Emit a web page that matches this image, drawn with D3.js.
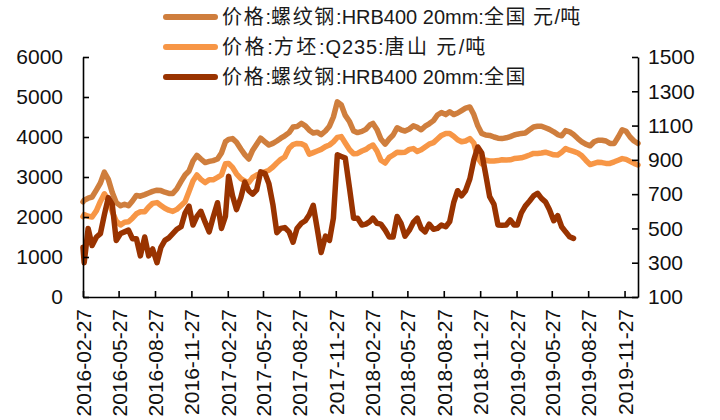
<!DOCTYPE html>
<html>
<head>
<meta charset="utf-8">
<script src="https://cdn.jsdelivr.net/npm/d3@7"></script>
<style>
  body { margin: 0; background: #fff; }
  text { font-family: "Liberation Sans", "Noto Sans CJK SC", sans-serif; }
</style>
</head>
<body>
<div class="chart"></div>
<script>
// dates of the samples (about every 10 days)
const dates = [
  '2016-02-27',
  '2016-03-01','2016-03-11','2016-03-21','2016-04-01','2016-04-11','2016-04-21','2016-05-01','2016-05-11','2016-05-21',
  '2016-06-01','2016-06-11','2016-06-21','2016-07-01','2016-07-11','2016-07-21','2016-08-01','2016-08-11','2016-08-21',
  '2016-09-01','2016-09-11','2016-09-21','2016-10-01','2016-10-11','2016-10-21','2016-11-01','2016-11-11','2016-11-21',
  '2016-12-01','2016-12-11','2016-12-21',
  '2017-01-01','2017-01-11','2017-01-21','2017-02-01','2017-02-11','2017-02-21','2017-03-01','2017-03-11','2017-03-21',
  '2017-04-01','2017-04-11','2017-04-21','2017-05-01','2017-05-11','2017-05-21','2017-06-01','2017-06-11','2017-06-21',
  '2017-07-01','2017-07-11','2017-07-21','2017-08-01','2017-08-11','2017-08-21','2017-09-01','2017-09-11','2017-09-21',
  '2017-10-01','2017-10-11','2017-10-21','2017-11-01','2017-11-11','2017-11-21','2017-12-01','2017-12-11','2017-12-21',
  '2018-01-01','2018-01-11','2018-01-21','2018-02-01','2018-02-11','2018-02-21','2018-03-01','2018-03-11','2018-03-21',
  '2018-04-01','2018-04-11','2018-04-21','2018-05-01','2018-05-11','2018-05-21','2018-06-01','2018-06-11','2018-06-21',
  '2018-07-01','2018-07-11','2018-07-21','2018-08-01','2018-08-11','2018-08-21','2018-09-01','2018-09-11','2018-09-21',
  '2018-10-01','2018-10-11','2018-10-21','2018-11-01','2018-11-11','2018-11-21','2018-12-01','2018-12-11','2018-12-21',
  '2019-01-01','2019-01-11','2019-01-21','2019-02-01','2019-02-11','2019-02-21','2019-03-01','2019-03-11','2019-03-21',
  '2019-04-01','2019-04-11','2019-04-21','2019-05-01','2019-05-11','2019-05-21','2019-06-01','2019-06-11','2019-06-21',
  '2019-07-01','2019-07-11','2019-07-21','2019-08-01','2019-08-11','2019-08-21','2019-09-01','2019-09-11','2019-09-21',
  '2019-10-01','2019-10-11','2019-10-21','2019-11-01','2019-11-11','2019-11-21','2019-12-01','2019-12-11','2019-12-21',
  '2019-12-31'
];

// 价格:螺纹钢:HRB400 20mm:全国 元/吨 (left axis)
const rebar = [
  2380,
  2420, 2470, 2500, 2680, 2850, 3120, 2940, 2610, 2360,
  2280, 2320, 2280, 2400, 2540, 2520, 2560, 2600, 2640,
  2670, 2660, 2620, 2590, 2590, 2700, 2890, 3050, 3150,
  3400, 3540, 3450,
  3360, 3390, 3410, 3450, 3600, 3880, 3940, 3960, 3870,
  3700, 3560, 3450, 3670, 3820, 3970, 3880, 3800, 3840,
  3900, 3970, 4030, 4110, 4250, 4260, 4340, 4280, 4170,
  4100, 4120, 4060, 4150, 4270, 4500, 4880, 4800, 4540,
  4380, 4150, 4110, 4140, 4190, 4300, 4340, 4190, 3950,
  3820, 3950, 4050, 4230, 4180, 4150, 4200, 4280, 4240,
  4180, 4270, 4330, 4410, 4550, 4610, 4560, 4630, 4560,
  4600, 4660, 4720, 4750, 4560, 4280, 4090, 4050, 4040,
  4000, 3970, 3960, 3980, 4010, 4050, 4070, 4090, 4100,
  4180, 4250, 4270, 4270, 4230, 4190, 4130, 4060, 4030,
  4160, 4130, 4060, 3960, 3880, 3820, 3780, 3880, 3920,
  3920, 3900, 3840, 3840, 4000, 4180, 4140, 4000, 3900,
  3840
];

// 价格:方坯:Q235:唐山 元/吨 (left axis)
const billet = [
  2010,
  2060, 2020, 2000, 2160, 2390, 2580, 2420, 2130, 1900,
  1800, 1870, 1880, 1970, 2080, 2130, 2130, 2250, 2340,
  2360, 2290, 2220, 2170, 2140, 2190, 2290, 2380, 2640,
  2900, 3050, 2940,
  2860, 2930, 2930, 2990, 3050, 3330, 3340, 3240, 3080,
  2960, 2900, 2860, 2990, 3050, 3080, 3130, 3170, 3250,
  3350, 3440, 3500, 3720, 3810, 3840, 3830, 3780, 3570,
  3610, 3650, 3690, 3760, 3800, 3880, 3990, 4010, 3850,
  3680, 3580, 3590, 3650, 3690, 3760, 3800, 3650, 3420,
  3350, 3490, 3550, 3620, 3610, 3620, 3690, 3710, 3640,
  3680, 3750, 3820, 3860, 3950, 4040, 4090, 4090, 4020,
  3930, 3880, 3900, 3960, 3850, 3480, 3330, 3420, 3400,
  3400, 3410, 3430, 3425, 3430, 3460, 3470, 3480, 3510,
  3550, 3590, 3590, 3600, 3620, 3590, 3555, 3550, 3620,
  3710, 3670, 3640, 3600, 3530, 3420, 3310, 3340, 3370,
  3360, 3340, 3340, 3380, 3420, 3460, 3440, 3390, 3340,
  3300
];

// 价格:螺纹钢:HRB400 20mm:全国 (right axis), ends in July 2019
const margin3 = [
  390,
  300, 500, 400, 450, 470, 580, 680, 640, 430,
  470, 480, 490, 440, 440, 340, 450, 340, 380,
  300, 390, 430, 445, 470, 495, 510, 590, 630,
  520, 570, 600,
  535, 480, 565, 650, 500, 570, 805, 690, 610,
  680, 770, 720, 700, 725, 830, 820, 760, 640,
  475, 500, 505, 480, 420, 500, 530, 545, 580,
  635, 500, 360, 455, 430, 560, 930, 920, 910,
  730, 560, 560, 520, 525, 540, 560, 530, 525,
  490, 450, 450, 570, 530, 455, 490, 535, 560,
  500, 480, 525, 495, 500, 520, 510, 540, 650,
  720, 690, 720, 790, 900, 975, 940, 815, 685,
  640, 520, 518, 520, 550, 520, 520, 590, 630,
  660, 690, 705, 675, 655, 610, 545, 575, 510,
  480, 452, 442
];

const tickDates = [
  '2016-02-27','2016-05-27','2016-08-27','2016-11-27','2017-02-27','2017-05-27','2017-08-27','2017-11-27',
  '2018-02-27','2018-05-27','2018-08-27','2018-11-27','2019-02-27','2019-05-27','2019-08-27','2019-11-27'
];
const leftTicks = [0, 1000, 2000, 3000, 4000, 5000, 6000];
const rightTicks = [100, 300, 500, 700, 900, 1100, 1300, 1500];
const seriesNames = [
  '价格:螺纹钢:HRB400 20mm:全国 元/吨',
  '价格:方坯:Q235:唐山 元/吨',
  '价格:螺纹钢:HRB400 20mm:全国'
];
const colors = ['#cf7e3d', '#f79646', '#993300'];

const margin = { top: 57, right: 82, bottom: 123, left: 83 };
const width = 720 - margin.left - margin.right;
const height = 420 - margin.top - margin.bottom;

const parse = d3.timeParse('%Y-%m-%d');

const svg = d3.select('.chart')
  .append('svg')
  .attr('width', width + margin.left + margin.right)
  .attr('height', height + margin.top + margin.bottom);

const g = svg.append('g')
  .attr('transform', `translate(${margin.left}, ${margin.top})`);

const xScale = d3.scaleTime()
  .domain([parse('2016-02-27'), parse('2019-12-31')])
  .range([0, width]);

const yLeft = d3.scaleLinear().domain([0, 6000]).range([height, 0]);
const yRight = d3.scaleLinear().domain([100, 1500]).range([height, 0]);

// lines
const series = [
  { values: rebar, y: yLeft },
  { values: billet, y: yLeft },
  { values: margin3, y: yRight }
];

series.forEach((s, i) => {
  const pts = s.values.map((v, j) => ({ date: parse(dates[j]), v }));
  const line = d3.line()
    .x(d => xScale(d.date))
    .y(d => s.y(d.v));
  g.append('path')
    .datum(pts)
    .attr('d', line)
    .attr('fill', 'none')
    .attr('stroke', colors[i])
    .attr('stroke-width', 5.5)
    .attr('stroke-linejoin', 'round')
    .attr('stroke-linecap', 'round');
});

// axes, ticks point inside
const xAxis = d3.axisBottom(xScale)
  .tickValues(tickDates.map(parse))
  .tickFormat(d3.timeFormat('%Y-%m-%d'))
  .tickSizeInner(-6)
  .tickSizeOuter(0);

const gx = g.append('g')
  .attr('transform', `translate(0, ${height})`)
  .call(xAxis);

const gl = g.append('g')
  .call(d3.axisLeft(yLeft).tickValues(leftTicks).tickFormat(d3.format('d'))
    .tickSizeInner(-6).tickSizeOuter(0).tickPadding(20));

const gr = g.append('g')
  .attr('transform', `translate(${width}, 0)`)
  .call(d3.axisRight(yRight).tickValues(rightTicks).tickFormat(d3.format('d'))
    .tickSizeInner(-6).tickSizeOuter(0).tickPadding(10));

[gx, gl, gr].forEach(ax => {
  ax.attr('font-family', null).attr('font-size', null);
  ax.selectAll('.domain, .tick line').attr('stroke', '#000').attr('stroke-width', 1.6);
  ax.selectAll('text').style('font-size', '21px').attr('fill', '#111');
});

gx.selectAll('text')
  .attr('transform', 'rotate(-90)')
  .attr('x', -12)
  .attr('y', 0)
  .attr('dy', '0.36em')
  .attr('text-anchor', 'end');

// legend: chinese characters a little wider spaced, as in the original
const legend = svg.append('g');
seriesNames.forEach((name, i) => {
  const ly = 17 + i * 30;
  legend.append('line')
    .attr('x1', 166).attr('x2', 215)
    .attr('y1', ly).attr('y2', ly)
    .attr('stroke', colors[i])
    .attr('stroke-width', 6)
    .attr('stroke-linecap', 'round');
  const t = legend.append('text')
    .attr('x', 222)
    .attr('y', ly)
    .attr('dy', '0.35em')
    .style('font-size', '20px')
    .attr('fill', '#1a1a1a');
  name.match(/[\u4e00-\u9fff]+|[^\u4e00-\u9fff]+/g).forEach(run => {
    const cjk = /[\u4e00-\u9fff]/.test(run);
    t.append('tspan')
      .style('letter-spacing', cjk ? '1.7px' : '0px')
      .text(run);
  });
  if (i === 1) t.attr('textLength', 265).attr('lengthAdjust', 'spacing');
});
</script>
</body>
</html>
